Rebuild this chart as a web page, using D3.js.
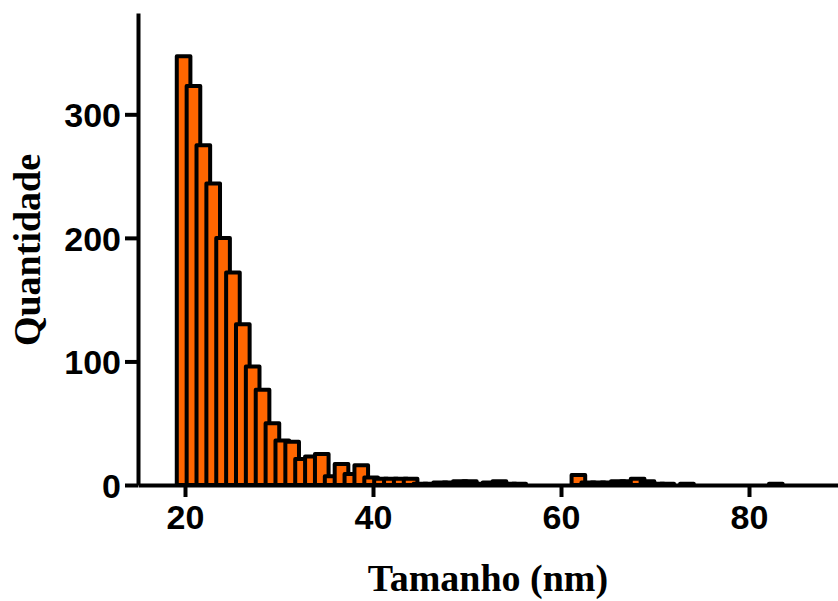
<!DOCTYPE html>
<html>
<head>
<meta charset="utf-8">
<script src="https://cdn.jsdelivr.net/npm/d3@7"></script>
<style>
  body { margin: 0; background: #fff; }
  svg { display: block; }
</style>
</head>
<body>
<div id="chart"></div>
<script>
// histogram bins (centre of bin, nm) and counts
const binCenters = [
  19.85, 20.90, 21.95, 23.00, 24.05, 25.10, 26.15, 27.20, 28.25, 29.30,
  30.35, 31.40, 32.45, 33.50, 34.55, 35.60, 36.65, 37.70, 38.75, 39.80,
  40.85, 41.90, 42.95, 44.00, 45.05, 46.10, 47.15, 48.20, 49.25, 50.30,
  51.35, 52.40, 53.45, 54.50, 55.55, 56.60, 57.65, 58.70, 59.75, 60.80,
  61.85, 62.90, 63.95, 65.00, 66.05, 67.10, 68.15, 69.20, 70.25, 71.30,
  72.35, 73.40, 74.45, 75.50, 76.55, 77.60, 78.65, 79.70, 80.75, 81.80,
  82.85
]
const counts = [
  347, 323, 275, 244, 200, 172, 130, 96, 77, 50,
  36, 35, 21, 23, 25, 7, 17, 9, 16, 6,
  5, 5, 5, 5, 1, 1, 2, 2, 3, 3,
  1, 2, 3, 1, 1, 0, 0, 0, 0, 0,
  8, 2, 2, 2, 3, 3, 5, 3, 1, 1,
  0, 1, 0, 0, 0, 0, 0, 0, 0, 0,
  1
]
const xTicks = [20, 40, 60, 80]
const yTicks = [0, 100, 200, 300]
const xTitle = 'Tamanho (nm)'
const yTitle = 'Quantidade'

const width = 838
const height = 601
const barWidthNm = 1.45
const fillColor = '#FF6600'

const svg = d3.select('#chart')
  .append('svg')
  .attr('width', width)
  .attr('height', height)

const xScale = d3.scaleLinear()
  .domain([15, 90])
  .range([138, 843])

const yScale = d3.scaleLinear()
  .domain([0, 382])
  .range([485, 13])

const bins = binCenters.map((c, i) => ({ x: c, n: counts[i] }))

// bars overlap: each later bar sits on top of the previous one
const halfW = (xScale(barWidthNm) - xScale(0)) / 2
svg.append('g')
  .selectAll('rect')
  .data(bins)
  .join('rect')
  .attr('x', d => xScale(d.x) - halfW)
  .attr('y', d => yScale(d.n))
  .attr('width', halfW * 2)
  .attr('height', d => yScale(0) - yScale(d.n))
  .attr('fill', fillColor)
  .attr('stroke', '#000')
  .attr('stroke-width', 4)
  .attr('stroke-linejoin', 'round')

// axes
const xAxis = d3.axisBottom(xScale)
  .tickValues(xTicks)
  .tickSize(12)
  .tickPadding(8)
  .tickSizeOuter(0)

const yAxis = d3.axisLeft(yScale)
  .tickValues(yTicks)
  .tickSize(13)
  .tickPadding(4)
  .tickSizeOuter(0)

const gx = svg.append('g')
  .attr('transform', 'translate(0,' + yScale(0) + ')')
  .call(xAxis)

const gy = svg.append('g')
  .attr('transform', 'translate(' + xScale(15) + ',0)')
  .call(yAxis)

for (const g of [gx, gy]) {
  g.select('.domain')
    .attr('stroke', '#000')
    .attr('stroke-width', 4)
  g.selectAll('.tick line')
    .attr('stroke', '#000')
    .attr('stroke-width', 4)
  g.selectAll('.tick text')
    .attr('fill', '#000')
    .style('font-family', '"Liberation Sans", Arial, sans-serif')
    .style('font-weight', 'bold')
    .style('font-size', '34px')
}
gy.selectAll('.tick text').attr('dy', '0.36em')

svg.append('text')
  .attr('x', 488)
  .attr('y', 591)
  .attr('text-anchor', 'middle')
  .style('font-family', '"Liberation Serif", "Times New Roman", serif')
  .style('font-weight', 'bold')
  .style('font-size', '38px')
  .text(xTitle)

svg.append('text')
  .attr('transform', 'translate(40,250) rotate(-90)')
  .attr('text-anchor', 'middle')
  .style('font-family', '"Liberation Serif", "Times New Roman", serif')
  .style('font-weight', 'bold')
  .style('font-size', '38px')
  .text(yTitle)
</script>
</body>
</html>
